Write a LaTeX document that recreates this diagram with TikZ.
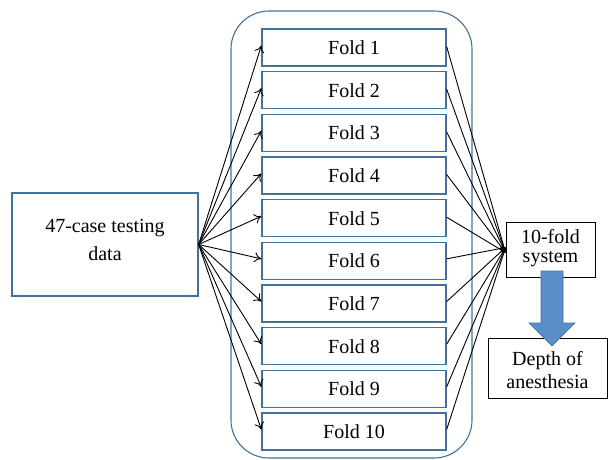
\documentclass[tikz,border=0pt]{standalone}
\usepackage{fontspec}
\setmainfont{Liberation Serif}
\usetikzlibrary{arrows.meta,shapes.arrows}
\definecolor{boxblue}{HTML}{41719C}
\definecolor{arrowfill}{HTML}{5B8DC9}
\tikzset{
  foldbox/.style={draw=boxblue, line width=1.3pt, minimum width=184pt, minimum height=37pt, inner sep=0pt, font=\fontsize{20}{22}\selectfont},
  plainbox/.style={draw=black, line width=0.9pt, inner sep=0pt, minimum width=10pt},
  plaintext/.style={inner sep=0pt, align=center},
  fanline/.style={draw=black, line width=0.9pt, -{To[length=7pt,width=10pt]}},
  joinline/.style={draw=black, line width=0.9pt, -{Latex[length=5pt,width=4pt]}},
}
\begin{document}
\begin{tikzpicture}[x=1pt,y=-1pt]
\useasboundingbox (0,0) rectangle (608,459);
\draw[boxblue, line width=1.1pt, rounded corners=38pt] (231,11) rectangle (472,458);
\node[draw=boxblue, line width=1.3pt, minimum width=186pt, minimum height=103pt, inner sep=0pt] (src) at (105,244.5) {};
\node[plaintext, font=\fontsize{20}{28}\selectfont] (srct) at (105,240) {47-case testing\\data};
\foreach \i in {1,...,10}{
  \node[foldbox] (f\i) at (354,{47.5+42.67*(\i-1)}) {Fold \i};
}
\node[plainbox, minimum width=89pt, minimum height=55pt] (sys) at (550.5,249.5) {};
\node[plaintext, font=\fontsize{20}{19}\selectfont] (syst) at (550.5,248) {10-fold\\system};
\node[plainbox, minimum width=119pt, minimum height=60pt] (doa) at (547.5,368) {};
\node[plaintext, font=\fontsize{20}{23}\selectfont] (doat) at (547.5,370) {Depth of\\anesthesia};
\coordinate (jt) at ([yshift=-3pt]sys.west);
\coordinate (jb) at ([yshift=2pt]sys.west);
\foreach \i in {1,...,10}{
  \draw[fanline] (src.east) -- ([yshift=2pt]f\i.west);
}
\foreach \i in {1,...,5}{
  \draw[joinline] ([yshift=1pt]f\i.east) -- (jt);
}
\foreach \i in {6,...,10}{
  \draw[joinline] ([yshift=2pt]f\i.east) -- (jb);
}
\fill[arrowfill, draw=boxblue, line width=0.6pt] (541,271) -- (563,271) -- (563,323) -- (575,323) -- (552,346) -- (529,323) -- (541,323) -- cycle;
\end{tikzpicture}
\end{document}
